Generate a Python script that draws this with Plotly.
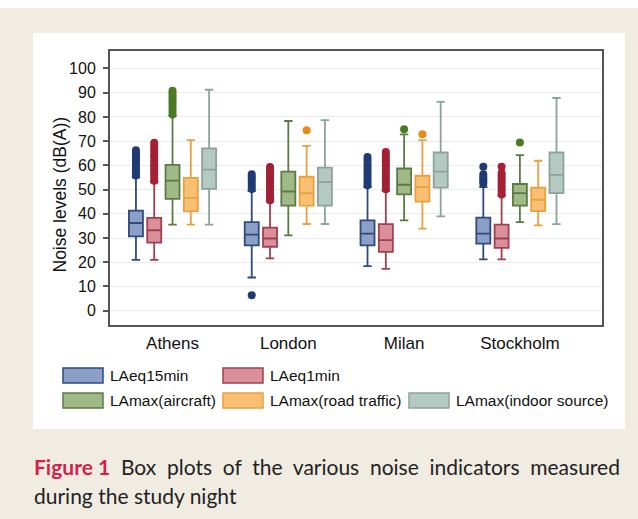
import plotly.graph_objects as go

# ---------------- data ----------------
cities = ["Athens", "London", "Milan", "Stockholm"]
series_names = ["LAeq15min", "LAeq1min", "LAmax(aircraft)", "LAmax(road traffic)", "LAmax(indoor source)"]

# per series: values for Athens, London, Milan, Stockholm
laeq15_low = [21.0, 13.7, 18.4, 21.2]
laeq15_q1 = [30.7, 27.0, 27.0, 27.7]
laeq15_med = [36.2, 31.4, 31.8, 31.8]
laeq15_q3 = [41.3, 36.6, 37.3, 38.4]
laeq15_up = [55.0, 49.5, 51.0, 51.0]
laeq15_out = [
    [55.8, 56.9, 57.6, 58.8, 59.7, 60.9, 62.0, 62.8, 64.1, 65.0, 66.2],
    [50.2, 51.3, 52.4, 53.6, 54.5, 55.4, 56.3, 6.4],
    [51.8, 52.9, 54.1, 55.2, 56.4, 57.5, 58.7, 59.8, 61.0, 62.2, 63.4],
    [52.4, 53.3, 54.2, 55.2, 56.3, 59.4],
]

laeq1_low = [21.0, 21.6, 17.3, 21.2]
laeq1_q1 = [28.1, 26.4, 24.3, 25.9]
laeq1_med = [33.2, 29.8, 29.1, 29.8]
laeq1_q3 = [38.3, 34.3, 35.7, 35.5]
laeq1_up = [53.0, 45.0, 49.5, 47.5]
laeq1_out = [
    [53.6, 54.8, 55.9, 57.1, 58.3, 59.4, 60.2, 61.5, 62.6, 63.8, 64.7, 66.1, 67.3, 68.4, 69.3],
    [45.6, 46.8, 47.9, 49.1, 50.2, 51.4, 52.5, 53.7, 54.6, 55.8, 56.9, 58.1, 59.3],
    [50.1, 51.3, 52.6, 53.8, 55.0, 56.2, 57.4, 58.6, 59.8, 61.0, 62.1, 63.3, 64.4, 65.5],
    [48.0, 49.1, 50.2, 51.3, 52.5, 53.6, 54.7, 55.8, 56.8, 59.4],
]

air_low = [35.5, 31.1, 37.3, 36.6]
air_q1 = [46.2, 43.4, 48.0, 43.4]
air_med = [53.7, 49.2, 52.0, 48.5]
air_q3 = [60.2, 57.4, 58.7, 52.3]
air_up = [80.5, 78.3, 72.8, 64.2]
air_out = [
    [81.0, 82.2, 83.5, 84.6, 85.8, 86.7, 87.9, 88.8, 89.9, 90.8],
    [],
    [74.9],
    [69.4],
]

road_low = [35.5, 35.8, 33.9, 35.2]
road_q1 = [41.0, 43.4, 45.0, 41.1]
road_med = [46.6, 48.5, 51.0, 45.8]
road_q3 = [54.8, 55.3, 55.7, 50.8]
road_up = [70.4, 68.0, 70.4, 61.9]
road_out = [[], [74.5], [72.8], []]

indoor_low = [35.5, 35.8, 38.9, 35.7]
indoor_q1 = [50.3, 43.4, 50.8, 48.5]
indoor_med = [58.2, 53.1, 57.4, 56.1]
indoor_q3 = [67.0, 59.1, 65.3, 65.3]
indoor_up = [91.2, 78.7, 86.2, 87.8]
indoor_out = [[], [], [], []]

y_ticks = [0, 10, 20, 30, 40, 50, 60, 70, 80, 90, 100]

caption_label = "Figure 1"
caption_line1 = "Box plots of the various noise indicators measured"
caption_line2 = "during the study night"
y_title = "Noise levels (dB(A))"

# ---------------- styles ----------------
fills = ["#8c9fc6", "#d9909b", "#9fba86", "#f9c074", "#b5c9c3"]
borders = ["#304a7c", "#a0404f", "#5d7a45", "#e8a040", "#8ca39c"]
outlier_cols = ["#1f3a75", "#a32035", "#4c7a24", "#e58c17", "#8ca39c"]

stats = [
    (laeq15_low, laeq15_q1, laeq15_med, laeq15_q3, laeq15_up, laeq15_out),
    (laeq1_low, laeq1_q1, laeq1_med, laeq1_q3, laeq1_up, laeq1_out),
    (air_low, air_q1, air_med, air_q3, air_up, air_out),
    (road_low, road_q1, road_med, road_q3, road_up, road_out),
    (indoor_low, indoor_q1, indoor_med, indoor_q3, indoor_up, indoor_out),
]

W, H = 638, 519
L, R, T, B = 110, 602, 51, 325
spacing = 0.158
box_w = 0.121

fig = go.Figure()
for j, (lo, q1, md, q3, up, outs) in enumerate(stats):
    off = (j - 2) * spacing
    xs = [i + off for i in range(len(cities))]
    fig.add_trace(go.Box(
        x=xs, q1=q1, median=md, q3=q3, lowerfence=lo, upperfence=up,
        width=box_w, whiskerwidth=0.6, boxpoints=False,
        fillcolor=fills[j], line=dict(color=borders[j], width=1.8),
        name=series_names[j], showlegend=False, hoverinfo="skip",
    ))
    ox, oy = [], []
    for i, vals in enumerate(outs):
        ox += [i + off] * len(vals)
        oy += vals
    if ox:
        fig.add_trace(go.Scatter(
            x=ox, y=oy, mode="markers",
            marker=dict(color=outlier_cols[j], size=8, line=dict(width=0)),
            showlegend=False, hoverinfo="skip",
        ))

def px(xp):
    return (xp - L) / (R - L)

def py(yp):
    return (B - yp) / (B - T)

shapes = [
    # white top strip and white panel
    dict(type="rect", xref="paper", yref="paper", x0=px(0), x1=px(W), y0=py(8), y1=py(0),
         fillcolor="white", line=dict(width=0), layer="below"),
    dict(type="rect", xref="paper", yref="paper", x0=px(33), x1=px(625), y0=py(429), y1=py(33),
         fillcolor="white", line=dict(width=0), layer="below"),
]

annotations = []
legend_pos = [(63, 368), (223, 368), (63, 393), (223, 393), (409, 393)]
for j, (lx, ly) in enumerate(legend_pos):
    shapes.append(dict(type="rect", xref="paper", yref="paper",
                       x0=px(lx), x1=px(lx + 40), y0=py(ly + 15), y1=py(ly),
                       fillcolor=fills[j], line=dict(color=borders[j], width=1.5)))
    annotations.append(dict(xref="paper", yref="paper", x=px(lx + 45), y=py(ly + 7.5),
                            text=series_names[j], showarrow=False, xanchor="left", yanchor="middle",
                            font=dict(family="Liberation Sans, Arial", size=15.5, color="#111")))

annotations.append(dict(xref="paper", yref="paper", x=px(59.5), y=py(195),
                        text=y_title, textangle=-90, showarrow=False,
                        xanchor="center", yanchor="middle",
                        font=dict(family="Liberation Sans, Arial", size=17.5, color="#111")))

gap = " \u00a0"
annotations.append(dict(xref="paper", yref="paper", x=px(32), y=py(466),
                        text="<b><span style='color:#d41f4c'>" + caption_label + "</span></b>" + gap
                             + gap.join(caption_line1.split(" ")),
                        showarrow=False, xanchor="left", yanchor="middle",
                        font=dict(family="Lato, Open Sans", size=21, color="#222")))
annotations.append(dict(xref="paper", yref="paper", x=px(32), y=py(495),
                        text=caption_line2,
                        showarrow=False, xanchor="left", yanchor="middle",
                        font=dict(family="Lato, Open Sans", size=21, color="#222")))

fig.update_layout(
    width=W, height=H,
    margin=dict(l=L, r=W - R, t=T, b=H - B, pad=0),
    paper_bgcolor="#f0ece2",
    plot_bgcolor="white",
    shapes=shapes,
    annotations=annotations,
    showlegend=False,
)
fig.update_xaxes(
    range=[-0.54, 3.709], tickvals=list(range(len(cities))), ticktext=cities,
    showgrid=False, zeroline=False, showline=True, mirror=True,
    linecolor="#555", linewidth=2, ticks="", ticklabelstandoff=2,
    tickfont=dict(family="Liberation Sans, Arial", size=17, color="#111"),
)
fig.update_yaxes(
    range=[-5.9, 107.2], tickvals=y_ticks,
    showgrid=True, gridcolor="#e7edf3", gridwidth=1, zeroline=False,
    showline=True, mirror=True, linecolor="#555", linewidth=2,
    ticks="outside", ticklen=5, tickcolor="#555", tickwidth=1.5, ticklabelstandoff=4,
    tickfont=dict(family="Liberation Sans, Arial", size=16, color="#111"),
)

fig.write_html("out.html", config={"displayModeBar": False},
               post_script="document.body.style.margin='0';document.body.style.overflow='hidden';")
